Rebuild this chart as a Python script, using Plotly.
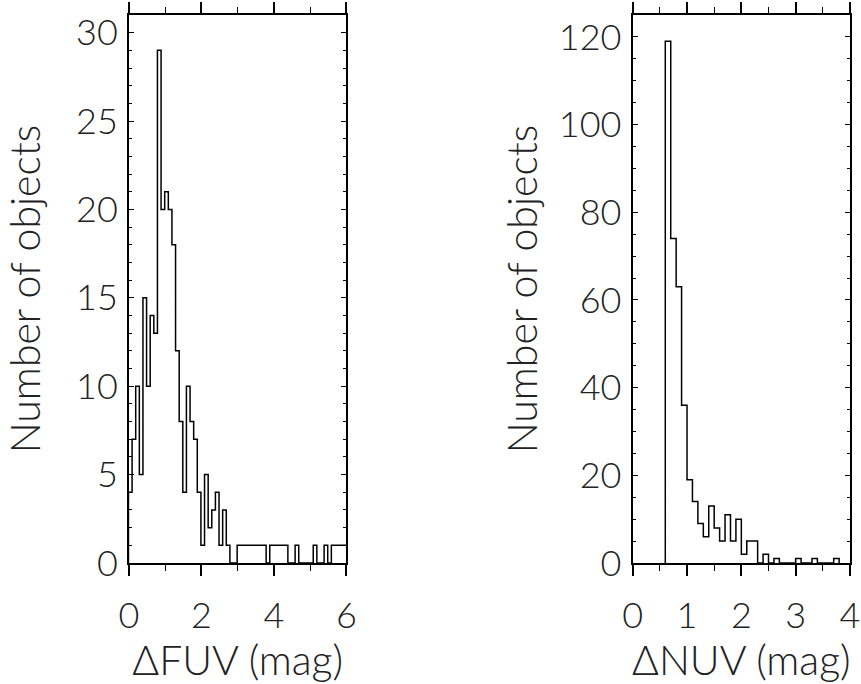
import numpy as np
import plotly.graph_objects as go

# Histogram of FUV magnitude differences (bin width 0.1 mag)
fuv_start = -0.015
fuv_width = 0.1
fuv_counts = [4, 7, 10, 5, 15, 10, 14, 13, 29, 20, 21, 20, 18, 12, 8, 4, 10, 8, 7, 4,
              1, 5, 2, 3, 4, 1, 3, 1, 0, 0, 1, 1, 1, 1, 1, 1, 1, 1, 0, 1,
              1, 1, 1, 1, 0, 0, 1, 0, 0, 0, 0, 1, 0, 0, 1, 0, 1, 1, 1, 1, 1]

# Histogram of NUV magnitude differences (bin width 0.1 mag)
nuv_start = 0.6
nuv_width = 0.1
nuv_counts = [119, 74, 63, 36, 19, 14, 9, 6, 13, 8, 5, 11, 5, 10, 2, 5, 5, 0, 2, 0,
              1, 0, 0, 0, 1, 0, 0, 1, 0, 0, 0, 1]

fuv_xticks = [0, 2, 4, 6]
fuv_yticks = [0, 5, 10, 15, 20, 25, 30]
nuv_xticks = [0, 1, 2, 3, 4]
nuv_yticks = [0, 20, 40, 60, 80, 100, 120]


def step_outline(start, width, counts):
    counts = np.asarray(counts, dtype=float)
    edges = start + width * np.arange(len(counts) + 1)
    xs = np.concatenate([[edges[0]], edges[:-1], [edges[-1], edges[-1]]])
    ys = np.concatenate([[0.0], counts, [counts[-1], 0.0]])
    return xs, ys


FONT = dict(family="Lato", size=36, color="#222222", weight=300)
TITLE_FONT = dict(family="Lato", size=41, color="#222222", weight=300)

fig = go.Figure()

for i, (start, width, counts) in enumerate([(fuv_start, fuv_width, fuv_counts),
                                            (nuv_start, nuv_width, nuv_counts)]):
    xs, ys = step_outline(start, width, counts)
    fig.add_trace(go.Scatter(
        x=xs, y=ys, mode="lines", line=dict(color="black", width=1.5, shape="hv"),
        xaxis="x" if i == 0 else "x2", yaxis="y" if i == 0 else "y2",
        showlegend=False, hoverinfo="skip"))

XMINOR = dict(ticks="outside", ticklen=6, tickwidth=1.4, tickcolor="black")
YMINOR = dict(ticks="inside", ticklen=3, tickwidth=1.2, tickcolor="black")

# frame on all four sides, ticks repeated on the top and right edges
common_x = dict(ticks="outside", ticklen=11, tickwidth=1.6, tickcolor="black",
                showline=True, linecolor="black", linewidth=2, mirror="allticks",
                showgrid=False, zeroline=False, tickfont=FONT, ticklabelstandoff=9,
                automargin=False)
common_y = dict(ticks="inside", ticklen=5, tickwidth=1.4, tickcolor="black",
                showline=True, linecolor="black", linewidth=2, mirror="allticks",
                showgrid=False, zeroline=False, tickfont=FONT, ticklabelstandoff=2,
                automargin=False)

fig.update_layout(
    width=861, height=684,
    margin=dict(l=129, r=11, t=15, b=121),
    paper_bgcolor="white", plot_bgcolor="white",
    xaxis=dict(common_x, domain=[0, 0.3015], range=[0, 6], tickvals=fuv_xticks,
               minor=dict(XMINOR, dtick=1),
               title=dict(text="ΔFUV (mag)", font=TITLE_FONT, standoff=20)),
    yaxis=dict(common_y, domain=[0, 1], range=[0, 31], tickvals=fuv_yticks,
               minor=dict(YMINOR, dtick=1),
               title=dict(text="Number of objects", font=TITLE_FONT, standoff=36)),
    xaxis2=dict(common_x, domain=[0.6986, 1], range=[0, 4], tickvals=nuv_xticks,
                anchor="y2", minor=dict(XMINOR, dtick=0.5),
                title=dict(text="ΔNUV (mag)", font=TITLE_FONT, standoff=20)),
    yaxis2=dict(common_y, domain=[0, 1], range=[0, 125], tickvals=nuv_yticks,
                anchor="x2", minor=dict(YMINOR, dtick=5),
                title=dict(text="Number of objects", font=TITLE_FONT, standoff=8)),
)

fig.write_html("out.html")
